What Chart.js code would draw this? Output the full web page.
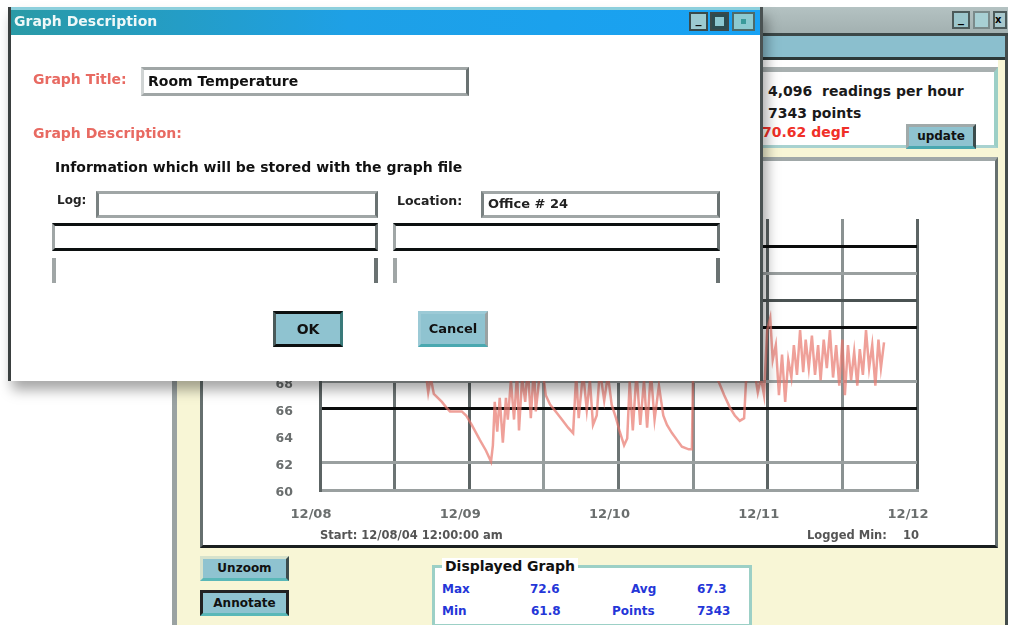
<!DOCTYPE html>
<html>
<head>
<meta charset="utf-8">
<script src="https://cdn.jsdelivr.net/npm/chart.js@4.4.1/dist/chart.umd.min.js"></script>
<style>
  body { margin:0; width:1012px; height:625px; background:#fff; position:relative; overflow:hidden;
         font-family:"DejaVu Sans", Arial, sans-serif; font-weight:bold; }
  .a { position:absolute; box-sizing:border-box; white-space:nowrap; }
  .btn { background:#8fc3d0; text-align:center; color:#111; font-size:12px; }
</style>
</head>
<body>

<!-- main window behind -->
<div class="a" style="left:172px;top:7px;width:836px;height:618px;background:#f8f6d6;border-left:5px solid #9aa2a2;border-right:3px solid #444c4c;"></div>
<div class="a" style="left:762px;top:7px;width:246px;height:27px;background:linear-gradient(#b4c2c2,#a2b0b0);"></div>
<div class="a" style="left:952px;top:11px;width:18px;height:18px;background:#9cc6cc;border:2px solid #4c5a5a;font-size:12px;line-height:10px;text-align:center;">_</div>
<div class="a" style="left:973px;top:11px;width:17px;height:18px;background:#a8d0d4;border:2px solid #7a8a8a;"></div>
<div class="a" style="left:993px;top:11px;width:14px;height:18px;background:#a8c8cc;border:2px solid #4c5a5a;font-size:10px;line-height:14px;">x</div>
<div class="a" style="left:762px;top:33px;width:246px;height:3px;background:#3c4848;"></div>
<div class="a" style="left:762px;top:36px;width:243px;height:21px;background:#8bbfce;"></div>
<div class="a" style="left:762px;top:57px;width:243px;height:3px;background:#2c3838;"></div>
<div class="a" style="left:762px;top:60px;width:236px;height:88px;background:#fff;"></div>
<div class="a" style="left:762px;top:67px;width:236px;height:81px;border-top:5px solid #a8b0b0;border-right:4px solid #9ccfc6;border-bottom:3px solid #a8d2d0;background:#fff;"></div>
<div class="a" style="left:768px;top:83px;font-size:14px;color:#1a1a1a;">4,096&nbsp; readings per hour</div>
<div class="a" style="left:768px;top:105px;font-size:14px;color:#1a1a1a;">7343 points</div>
<div class="a" style="left:762px;top:124px;font-size:14px;color:#f03028;">70.62 degF</div>
<div class="a btn" style="left:906px;top:124px;width:70px;height:25px;border:3px solid #a0aaaa;border-bottom-color:#4aa8b0;border-right-color:#3c4c4c;line-height:19px;font-size:12px;">update</div>

<!-- chart panel -->
<div class="a" style="left:200px;top:157px;width:798px;height:391px;background:#fff;border-top:4px solid #a0a8a8;border-left:3px solid #66706f;border-right:3px solid #66706f;border-bottom:3px solid #1a1f1f;"></div>
<div class="a" style="left:200px;top:160px;width:797px;height:386px;">
  <canvas id="tempChart"></canvas>
</div>
<div class="a" style="left:320px;top:528px;font-size:11.5px;color:#555;">Start: 12/08/04 12:00:00 am</div>
<div class="a" style="left:807px;top:528px;font-size:11.5px;color:#555;">Logged Min:&nbsp;&nbsp;&nbsp;&nbsp;10</div>

<!-- bottom controls -->
<div class="a btn" style="left:200px;top:556px;width:89px;height:25px;border:3px solid #d6e2cc;border-right-color:#3c4c4c;border-bottom-color:#5ab8b8;line-height:19px;">Unzoom</div>
<div class="a btn" style="left:200px;top:590px;width:89px;height:26px;border:3px solid #222;border-bottom-color:#5ab8b8;line-height:20px;">Annotate</div>
<div class="a" style="left:432px;top:565px;width:320px;height:62px;background:#fff;border:3px solid #9cd0c6;"></div>
<div class="a" style="left:442px;top:558px;padding:0 3px;background:#fff;font-size:14px;color:#111;">Displayed Graph</div>
<div class="a" style="left:442px;top:582px;font-size:12px;color:#2436d8;">Max</div>
<div class="a" style="left:530px;top:582px;font-size:12px;color:#2436d8;">72.6</div>
<div class="a" style="left:631px;top:582px;font-size:12px;color:#2436d8;">Avg</div>
<div class="a" style="left:697px;top:582px;font-size:12px;color:#2436d8;">67.3</div>
<div class="a" style="left:442px;top:604px;font-size:12px;color:#2436d8;">Min</div>
<div class="a" style="left:531px;top:604px;font-size:12px;color:#2436d8;">61.8</div>
<div class="a" style="left:612px;top:604px;font-size:12px;color:#2436d8;">Points</div>
<div class="a" style="left:697px;top:604px;font-size:12px;color:#2436d8;">7343</div>

<!-- dialog on top -->
<div class="a" style="left:8px;top:7px;width:755px;height:374px;background:#fff;border-left:3px solid #3a3f3f;border-right:3px solid #4a5252;box-shadow:4px 9px 12px rgba(0,0,0,0.35);z-index:5;">
  <div class="a" style="left:0;top:0;width:749px;height:28px;background:linear-gradient(90deg,#2a9aa6,#1ea0e6 45%,#18a2f4);border-top:3px solid #8ccfdc;"></div>
  <div class="a" style="left:3px;top:6px;font-size:14px;color:#eef8f8;">Graph Description</div>
  <div class="a" style="left:678px;top:5px;width:19px;height:19px;background:#9ccad0;border:2px solid #3a4a4a;font-size:12px;line-height:10px;text-align:center;color:#111;">_</div>
  <div class="a" style="left:699px;top:5px;width:19px;height:19px;background:#2c4c50;border:2px solid #3a4a4a;"><div class="a" style="left:3px;top:3px;width:9px;height:9px;background:#8cc8d0;"></div></div>
  <div class="a" style="left:721px;top:5px;width:23px;height:19px;background:#8ccad0;border:2px solid #4c6a6a;"><div class="a" style="left:7px;top:5px;width:5px;height:5px;background:#3a9a9a;"></div></div>

  <div class="a" style="left:22px;top:64px;font-size:14px;color:#e86a62;">Graph Title:</div>
  <div class="a" style="left:130px;top:60px;width:328px;height:29px;border:3px solid #a0a6a6;border-right-color:#6a7272;border-left-color:#d0d4d4;padding:3px 0 0 4px;font-size:14px;color:#111;">Room Temperature</div>
  <div class="a" style="left:22px;top:118px;font-size:14px;color:#e86a62;">Graph Description:</div>
  <div class="a" style="left:44px;top:152px;font-size:14px;color:#111;">Information which will be stored with the graph file</div>

  <div class="a" style="left:46px;top:186px;font-size:12px;color:#222;">Log:</div>
  <div class="a" style="left:85px;top:184px;width:282px;height:27px;border:3px solid #a0a6a6;border-right-color:#6a7272;border-left-color:#7a8282;"></div>
  <div class="a" style="left:386px;top:186px;font-size:12.5px;color:#222;">Location:</div>
  <div class="a" style="left:470px;top:184px;width:239px;height:27px;border:3px solid #a0a6a6;border-right-color:#6a7272;border-left-color:#7a8282;padding:2px 0 0 4px;font-size:13px;color:#222;">Office # 24</div>

  <div class="a" style="left:41px;top:216px;width:326px;height:28px;border:3px solid #0c1010;border-left-color:#a0a6a6;border-right-color:#6a7272;"></div>
  <div class="a" style="left:382px;top:216px;width:327px;height:28px;border:3px solid #0c1010;border-left-color:#a0a6a6;border-right-color:#6a7272;"></div>
  <div class="a" style="left:41px;top:251px;width:4px;height:25px;background:#a0a6a6;"></div>
  <div class="a" style="left:363px;top:251px;width:4px;height:25px;background:#6a7272;"></div>
  <div class="a" style="left:382px;top:251px;width:4px;height:25px;background:#a0a6a6;"></div>
  <div class="a" style="left:705px;top:251px;width:4px;height:25px;background:#6a7272;"></div>

  <div class="a btn" style="left:262px;top:304px;width:70px;height:36px;border:3px solid #0c1010;border-left-color:#4a5a5a;border-right-color:#3a7a7a;line-height:30px;font-size:14px;">OK</div>
  <div class="a btn" style="left:407px;top:304px;width:70px;height:36px;border:3px solid #9ccad6;border-bottom-color:#4aa8b0;border-right-color:#9aa2a2;line-height:30px;font-size:13px;">Cancel</div>
</div>

<script>
// time in hours since 12/08 00:00, temperature in degF
const hours = [0.3, 3.2, 6.4, 9.6, 12.9, 15.3, 17.0, 17.4, 17.8, 18.3, 19.6, 20.3, 20.9, 22.8, 23.5,
  24.4, 25.7, 26.7, 27.5, 27.8, 28.1, 28.5, 28.9, 29.4, 29.9, 30.2, 30.7, 31.2, 31.7, 32.0,
  32.5, 33.0, 33.4, 33.9, 34.4, 34.7, 35.4, 35.9, 36.3, 37.0, 37.9, 38.9, 39.9, 40.7, 41.2,
  41.6, 42.3, 42.9, 43.4, 43.9, 44.5, 45.0, 45.7, 46.3, 46.9, 47.6, 48.2, 48.9, 49.4, 49.8,
  50.3, 50.9, 51.5, 52.1, 52.6, 53.2, 53.8, 54.5, 55.2, 55.8, 56.6, 57.4, 58.2, 59.3, 59.8,
  60.0, 61.1, 62.4, 63.3, 64.2, 65.0, 65.9, 66.7, 67.5, 68.2, 68.5, 69.1, 70.1, 70.4, 70.9,
  71.4, 71.9, 72.4, 72.8, 73.3, 73.8, 74.3, 74.8, 75.3, 75.8, 76.2, 76.7, 77.2, 77.7, 78.1,
  78.6, 79.1, 79.6, 80.1, 80.5, 81.0, 81.5, 82.0, 82.5, 83.0, 83.5, 84.0, 84.4, 84.9, 85.4,
  85.9, 86.4, 86.8, 87.3, 87.8, 88.3, 88.8, 89.3, 89.8, 90.2, 90.7];
const temps = [70.3, 71.4, 70.7, 71.8, 71.1, 70.3, 68.7, 67.2, 68.3, 67.1, 66.5, 66.1, 65.8, 65.8, 65.5,
  64.8, 63.7, 62.9, 62.1, 63.3, 66.5, 64.3, 66.8, 63.5, 66.8, 65.2, 68.1, 65.2, 68.7, 64.4,
  68.3, 66.5, 69.2, 65.3, 69.2, 65.8, 68.9, 68.5, 67.0, 66.3, 65.8, 65.2, 64.6, 64.2, 68.5,
  65.3, 68.7, 65.9, 68.1, 64.8, 65.5, 68.9, 66.6, 68.5, 66.3, 65.3, 64.3, 63.3, 63.8, 68.0,
  64.4, 68.7, 64.8, 68.1, 64.6, 68.7, 65.2, 67.7, 65.5, 64.8, 64.2, 63.7, 63.2, 63.0, 63.0,
  68.9, 70.0, 69.4, 68.7, 67.9, 67.0, 66.1, 65.5, 65.1, 65.3, 68.0, 68.5, 68.1, 67.2, 68.3,
  67.0, 71.8, 72.7, 69.6, 70.7, 67.0, 70.0, 66.5, 69.6, 68.3, 70.7, 68.5, 71.8, 68.7, 71.1,
  69.0, 71.4, 68.5, 70.7, 68.1, 71.1, 69.0, 71.8, 68.3, 70.7, 67.7, 71.1, 67.0, 70.7, 68.1,
  70.2, 67.7, 70.4, 68.5, 71.8, 69.0, 70.7, 67.7, 71.1, 69.0, 70.9];
const dayLabels = ['12/08', '12/09', '12/10', '12/11', '12/12'];

const points = hours.map((h, i) => ({ x: h, y: temps[i] }));

// gridline look of the old logger software, per tick value
const yGridColors = { 62: '#9aa0a0', 66: '#0a0c0c', 68: '#9aa0a0', 72: '#0a0c0c', 74: '#4a5252', 76: '#9aa0a0', 78: '#0a0c0c' };
const xGridColors = { 12: '#6c7474', 24: '#5c6464', 36: '#949c9c', 48: '#6c7474', 60: '#8a9292', 72: '#5c6464', 84: '#8a9292', 96: '#5c6464' };

new Chart(document.getElementById('tempChart'), {
  type: 'line',
  data: {
    datasets: [{
      data: points,
      borderColor: 'rgba(232,120,110,0.7)',
      borderWidth: 2.5,
      pointRadius: 0,
      tension: 0
    }]
  },
  options: {
    responsive: true,
    maintainAspectRatio: false,
    animation: false,
    layout: { padding: { left: 0, top: 59, right: 80, bottom: 0 } },
    plugins: { legend: { display: false }, tooltip: { enabled: false } },
    scales: {
      x: {
        type: 'linear', min: 0, max: 96,
        afterFit: (s) => { s.height = 56; },
        ticks: {
          stepSize: 12, autoSkip: false, maxRotation: 0, padding: 17, labelOffset: -9,
          color: '#6a6e6e', font: { family: 'DejaVu Sans', size: 13, weight: 'bold' },
          callback: (v) => (v % 24 === 0 ? dayLabels[v / 24] : '')
        },
        grid: { drawTicks: false, lineWidth: 3, color: (c) => xGridColors[c.tick.value] || 'rgba(0,0,0,0)' },
        border: { display: true, color: '#9aa0a0', width: 3 }
      },
      y: {
        min: 60, max: 80,
        afterFit: (s) => { s.width = 120; },
        ticks: {
          stepSize: 2, padding: 27, labelOffset: 3,
          color: '#6a6e6e', font: { family: 'DejaVu Sans', size: 12.5, weight: 'bold' }
        },
        grid: { drawTicks: false, lineWidth: 3, color: (c) => yGridColors[c.tick.value] || 'rgba(0,0,0,0)' },
        border: { display: true, color: '#5c6464', width: 3 }
      }
    }
  }
});
</script>
</body>
</html>
